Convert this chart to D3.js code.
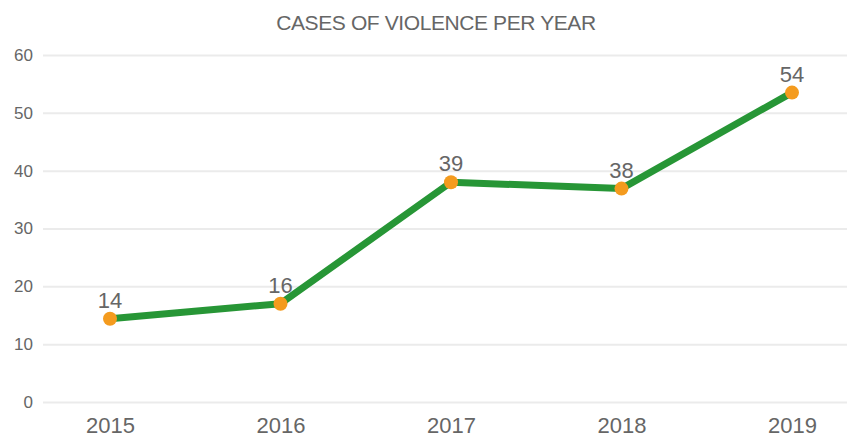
<!DOCTYPE html>
<meta charset="utf-8">
<style>
body { margin: 0; background: #fff; }
text { font-family: "Liberation Sans", Arial, sans-serif; fill: #666; }
</style>
<svg></svg>
<script src="https://cdnjs.cloudflare.com/ajax/libs/d3/7.8.5/d3.min.js"></script>
<script>
var width = 847
var height = 439

// chart data
var years = ["2015", "2016", "2017", "2018", "2019"]
var values = [14.4, 17.0, 38.0, 36.9, 53.5]
var labels = ["14", "16", "39", "38", "54"]
var yTicks = [0, 10, 20, 30, 40, 50, 60]

var svg = d3.select('svg')
  .attr('width', width)
  .attr('height', height)

var x = d3.scalePoint()
  .domain(years)
  .range([110, 792])

var y = d3.scaleLinear()
  .domain([0, 60])
  .range([402, 55])

// title
svg.append('text')
  .attr('x', 436)
  .attr('y', 30)
  .attr('text-anchor', 'middle')
  .attr('font-size', 21)
  .attr('letter-spacing', -0.4)
  .text('CASES OF VIOLENCE PER YEAR')

// gridlines + y labels
var yAxis = d3.axisLeft(y).tickValues(yTicks).tickSize(-(width - 43)).tickPadding(10)
var gy = svg.append('g')
  .attr('transform', 'translate(43,0)')
  .call(yAxis)
gy.select('.domain').remove()
gy.selectAll('line').attr('stroke', '#ebebeb').attr('stroke-width', 2)
gy.selectAll('text')
  .attr('font-size', 17)
  .attr('fill', '#666')
  .style('font-family', '"Liberation Sans", Arial, sans-serif')

// x labels
var xAxis = d3.axisBottom(x).tickSize(0).tickPadding(0)
var gx = svg.append('g')
  .attr('transform', 'translate(0,433)')
  .call(xAxis)
gx.select('.domain').remove()
gx.selectAll('text')
  .attr('font-size', 22)
  .attr('fill', '#666')
  .attr('dy', 0)
  .style('font-family', '"Liberation Sans", Arial, sans-serif')

// the line
var line = d3.line()
  .x(function (d, i) { return x(years[i]) })
  .y(function (d) { return y(d) })

svg.append('path')
  .datum(values)
  .attr('d', line)
  .attr('fill', 'none')
  .attr('stroke', '#279636')
  .attr('stroke-width', 7)
  .attr('stroke-linejoin', 'round')

svg.append('g').selectAll('circle')
  .data(values)
  .enter().append('circle')
  .attr('cx', function (d, i) { return x(years[i]) })
  .attr('cy', function (d) { return y(d) })
  .attr('r', 7)
  .attr('fill', '#f49b1e')

svg.append('g').selectAll('text')
  .data(values)
  .enter().append('text')
  .attr('x', function (d, i) { return x(years[i]) })
  .attr('y', function (d) { return y(d) - 11 })
  .attr('text-anchor', 'middle')
  .attr('font-size', 22)
  .text(function (d, i) { return labels[i] })
</script>
